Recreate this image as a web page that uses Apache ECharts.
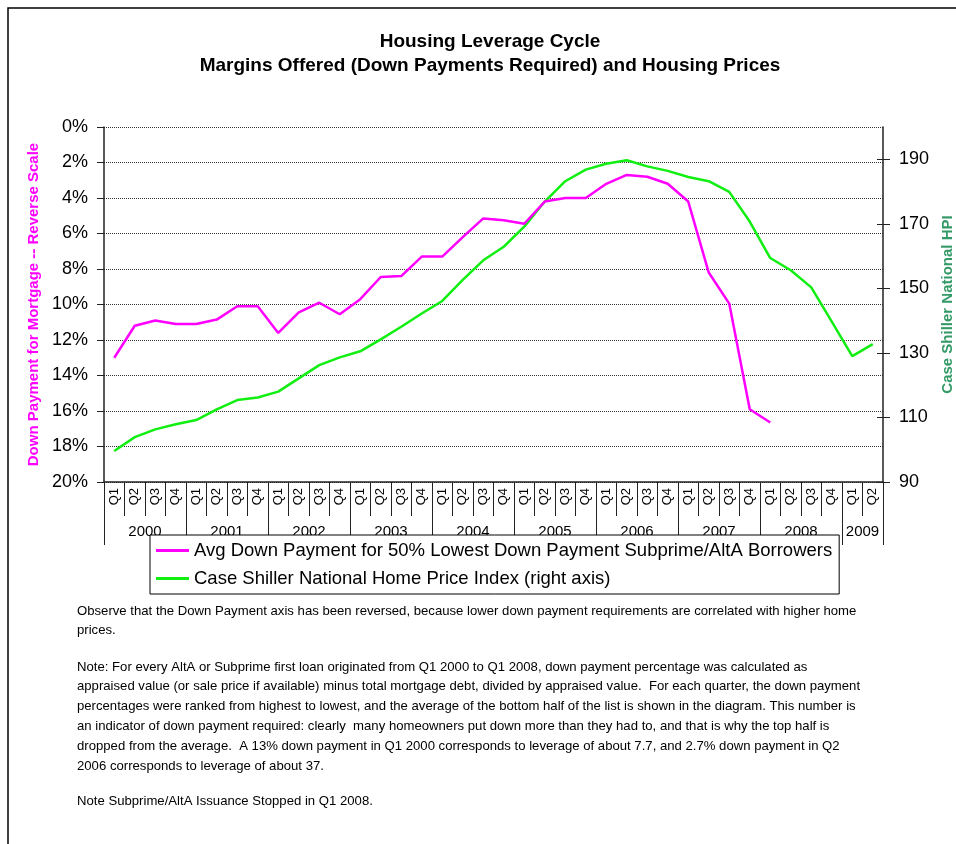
<!DOCTYPE html>
<html>
<head>
<meta charset="utf-8">
<script src="https://cdn.jsdelivr.net/npm/echarts@6/dist/echarts.min.js"></script>
<style>
  html, body { margin: 0; padding: 0; background: #fff; }
  #chart { width: 956px; height: 844px; }
</style>
</head>
<body>
<div id="chart"></div>
<script>
// quarters Q1 2000 .. Q2 2009
var quarters = [
  'Q1 2000', 'Q2 2000', 'Q3 2000', 'Q4 2000',
  'Q1 2001', 'Q2 2001', 'Q3 2001', 'Q4 2001',
  'Q1 2002', 'Q2 2002', 'Q3 2002', 'Q4 2002',
  'Q1 2003', 'Q2 2003', 'Q3 2003', 'Q4 2003',
  'Q1 2004', 'Q2 2004', 'Q3 2004', 'Q4 2004',
  'Q1 2005', 'Q2 2005', 'Q3 2005', 'Q4 2005',
  'Q1 2006', 'Q2 2006', 'Q3 2006', 'Q4 2006',
  'Q1 2007', 'Q2 2007', 'Q3 2007', 'Q4 2007',
  'Q1 2008', 'Q2 2008', 'Q3 2008', 'Q4 2008',
  'Q1 2009', 'Q2 2009'
];
var years = ['2000', '2001', '2002', '2003', '2004', '2005', '2006', '2007', '2008', '2009'];

// avg down payment (%), stops after Q1 2008
var downPayment = [
  13.0, 11.2, 10.9, 11.1, 11.1, 10.85, 10.1, 10.1,
  11.6, 10.45, 9.9, 10.55, 9.7, 8.45, 8.4, 7.3,
  7.3, 6.2, 5.15, 5.25, 5.45, 4.2, 4.0, 4.0,
  3.2, 2.7, 2.8, 3.2, 4.2, 8.2, 9.95, 15.9,
  16.65, null, null, null, null, null
];
// Case Shiller national HPI
var hpi = [
  99.6, 103.9, 106.3, 107.9, 109.2, 112.5, 115.4, 116.2,
  118.0, 122.1, 126.2, 128.6, 130.5, 134.2, 138.1, 142.2,
  146.1, 152.6, 158.7, 162.9, 169.1, 176.9, 183.2, 186.8,
  188.6, 189.7, 187.8, 186.4, 184.5, 183.2, 179.9, 170.7,
  159.4, 155.6, 150.3, 139.7, 129.0, 132.7
];
var pctTicks = [0, 2, 4, 6, 8, 10, 12, 14, 16, 18, 20];
var hpiTicks = [90, 110, 130, 150, 170, 190];

var notes = [
  ['Observe that the Down Payment axis has been reversed, because lower down payment requirements are correlated with higher home',
   'prices.'],
  ['Note: For every AltA or Subprime first loan originated from Q1 2000 to Q1 2008, down payment percentage was calculated as',
   'appraised value (or sale price if available) minus total mortgage debt, divided by appraised value.  For each quarter, the down payment',
   'percentages were ranked from highest to lowest, and the average of the bottom half of the list is shown in the diagram. This number is',
   'an indicator of down payment required: clearly  many homeowners put down more than they had to, and that is why the top half is',
   'dropped from the average.  A 13% down payment in Q1 2000 corresponds to leverage of about 7.7, and 2.7% down payment in Q2',
   '2006 corresponds to leverage of about 37.'],
  ['Note Subprime/AltA Issuance Stopped in Q1 2008.']
];

// year boundaries and label centres, counted from the quarter list
var yearBounds = [0];
var yearMids = [];
years.forEach(function (y) {
  var n = quarters.filter(function (q) { return q.slice(3) === y; }).length;
  var start = yearBounds[yearBounds.length - 1];
  yearMids.push(start + n / 2);
  yearBounds.push(start + n);
});

var font = 'Arial, "Liberation Sans", sans-serif';
var chart = echarts.init(document.getElementById('chart'));

var noteTops = [611, 667, 801];
var graphics = [{
  type: 'rect',
  shape: { x: 8, y: 8, width: 1000, height: 900 },
  style: { fill: 'none', stroke: '#000', lineWidth: 1.5 },
  silent: true
}];
notes.forEach(function (para, i) {
  graphics.push({
    type: 'text',
    left: 77,
    top: noteTops[i] - 10,
    style: {
      text: para.join('\n'),
      font: '13.15px ' + font,
      fill: '#000',
      lineHeight: 19.8
    }
  });
});

var gridBox = { left: 104, right: 73, top: 127, bottom: 362, outerBoundsMode: 'none' };

chart.setOption({
  animation: false,
  backgroundColor: '#fff',
  title: {
    text: 'Housing Leverage Cycle\nMargins Offered (Down Payments Required) and Housing Prices',
    left: 490,
    top: 30,
    textAlign: 'center',
    padding: 0,
    textStyle: {
      fontFamily: font,
      fontSize: 19,
      fontWeight: 'bold',
      color: '#000',
      lineHeight: 24
    }
  },
  legend: {
    orient: 'vertical',
    left: 150,
    top: 535,
    padding: [6, 7, 6, 6],
    itemGap: 9,
    itemWidth: 33,
    itemHeight: 3,
    icon: 'rect',
    backgroundColor: '#fff',
    borderColor: '#000',
    borderWidth: 1,
    borderRadius: 0,
    z: 10,
    textStyle: { fontFamily: font, fontSize: 18.5, color: '#000' },
    data: [
      'Avg Down Payment for 50% Lowest Down Payment Subprime/AltA Borrowers',
      'Case Shiller National Home Price Index (right axis)'
    ]
  },
  graphic: graphics,
  grid: [
    Object.assign({}, gridBox),
    Object.assign({}, gridBox, { z: 1 })
  ],
  xAxis: [{
    type: 'category',
    gridIndex: 0,
    data: quarters,
    position: 'bottom',
    axisLine: { onZero: false, lineStyle: { color: '#222', width: 1.5 } },
    axisTick: { show: true, interval: 0, length: 34, lineStyle: { color: '#222' } },
    axisLabel: {
      interval: 0,
      rotate: 90,
      margin: 6,
      fontFamily: font,
      fontSize: 13,
      color: '#000',
      formatter: function (v) { return v.slice(0, 2); }
    },
    splitLine: { show: false }
  }, {
    // year row under the quarters
    type: 'value',
    gridIndex: 1,
    position: 'bottom',
    min: 0,
    max: quarters.length,
    axisLine: { show: false, onZero: false },
    axisTick: {
      show: true,
      length: 63,
      customValues: yearBounds,
      lineStyle: { color: '#222' }
    },
    axisLabel: {
      margin: 42,
      customValues: yearMids,
      fontFamily: font,
      fontSize: 15,
      color: '#000',
      formatter: function (v) { return years[yearMids.indexOf(v)]; }
    },
    splitLine: { show: false }
  }],
  yAxis: [{
    type: 'value',
    gridIndex: 0,
    inverse: true,
    min: 0,
    max: 20,
    interval: 2,
    name: 'Down Payment for Mortgage -- Reverse Scale',
    nameLocation: 'middle',
    nameRotate: 90,
    nameGap: 62,
    nameTextStyle: { fontFamily: font, fontSize: 15, fontWeight: 'bold', color: '#ff00ff' },
    axisLine: { show: true, onZero: false, lineStyle: { color: '#222', width: 1.5 } },
    axisTick: { show: true, length: 7, customValues: pctTicks, lineStyle: { color: '#222' } },
    axisLabel: {
      margin: 16,
      customValues: pctTicks,
      fontFamily: font,
      fontSize: 18,
      color: '#000',
      formatter: '{value}%'
    },
    splitLine: { show: true, lineStyle: { color: '#333', type: [1, 1], width: 1 } }
  }, {
    type: 'value',
    gridIndex: 0,
    position: 'right',
    min: 90,
    max: 200,
    name: 'Case Shiller National HPI',
    nameLocation: 'middle',
    nameRotate: 90,
    nameGap: 49,
    nameTextStyle: { fontFamily: font, fontSize: 15, fontWeight: 'bold', color: '#339966' },
    axisLine: { show: true, onZero: false, lineStyle: { color: '#222', width: 1.5 } },
    axisTick: { show: true, length: 7, customValues: hpiTicks, lineStyle: { color: '#222' } },
    axisLabel: {
      margin: 16,
      customValues: hpiTicks,
      fontFamily: font,
      fontSize: 18,
      color: '#000'
    },
    splitLine: { show: false }
  }, {
    // inner half of the crossing ticks on the right axis
    type: 'value',
    gridIndex: 1,
    position: 'right',
    min: 90,
    max: 200,
    axisLine: { show: false, onZero: false },
    axisTick: { show: true, inside: true, length: 6, customValues: hpiTicks, lineStyle: { color: '#222' } },
    axisLabel: { show: false },
    splitLine: { show: false }
  }],
  series: [{
    name: 'Avg Down Payment for 50% Lowest Down Payment Subprime/AltA Borrowers',
    type: 'line',
    xAxisIndex: 0,
    yAxisIndex: 0,
    data: downPayment,
    symbol: 'none',
    lineStyle: { color: '#ff00ff', width: 2.5 },
    itemStyle: { color: '#ff00ff' },
    z: 3
  }, {
    name: 'Case Shiller National Home Price Index (right axis)',
    type: 'line',
    xAxisIndex: 0,
    yAxisIndex: 1,
    data: hpi,
    symbol: 'none',
    lineStyle: { color: '#11ee11', width: 2.5 },
    itemStyle: { color: '#11ee11' },
    z: 2
  }]
});
</script>
</body>
</html>
